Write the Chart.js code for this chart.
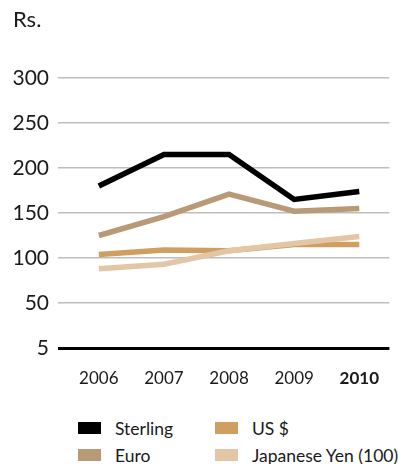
<!DOCTYPE html>
<html>
<head>
<meta charset="utf-8">
<script src="https://cdn.jsdelivr.net/npm/chart.js@4/dist/chart.umd.min.js"></script>
<style>
    html, body { margin: 0; padding: 0; background: #fff; }
    #wrap { position: relative; width: 399px; height: 464px; font-family: Lato, sans-serif; color: #1a1a1a; }
    #chart-box { position: absolute; left: 0; top: 0; width: 399px; height: 400px; }
    .key { position: absolute; display: flex; align-items: center; font-size: 17.5px; height: 24px; white-space: nowrap; }
    .key span.sw { display: inline-block; width: 23px; height: 12px; margin-right: 14px; flex: none; }
</style>
</head>
<body>
<div id="wrap">
    <div id="chart-box"><canvas id="fx"></canvas></div>
    <div id="legend"></div>
</div>
<script>
const years = [2006, 2007, 2008, 2009, 2010];
const sterling = [180, 215, 215, 165, 174];
const euro = [125, 146, 171, 152, 155];
const usDollar = [104, 109, 108, 115, 115];
const yen = [88, 93, 108, 116, 124];
const yTicks = [0, 50, 100, 150, 200, 250, 300];
const yTickLabels = ['5', '50', '100', '150', '200', '250', '300'];

const FONT = 'Lato, sans-serif';

const series = [
    { label: 'Sterling', values: sterling, color: '#000000' },
    { label: 'Euro', values: euro, color: '#b89a77' },
    { label: 'Japanese Yen (100)', values: yen, color: '#e3c6a5' },
    { label: 'US $', values: usDollar, color: '#d09e5f' },
];

// legend laid out in two columns, as in the printed report
const legendSlots = {
    'Sterling': [78, 416],
    'Euro': [78, 443],
    'US $': [215, 416],
    'Japanese Yen (100)': [215, 443],
};
const legend = document.getElementById('legend');
series.forEach((s) => {
    const [x, y] = legendSlots[s.label];
    const el = document.createElement('div');
    el.className = 'key';
    el.style.left = x + 'px';
    el.style.top = y + 'px';
    el.innerHTML = `<span class="sw" style="background:${s.color}"></span>${s.label}`;
    legend.appendChild(el);
});

new Chart(document.getElementById('fx'), {
    type: 'line',
    data: {
        datasets: series.map((s) => ({
            label: s.label,
            data: years.map((yr, i) => ({ x: yr, y: s.values[i] })),
            borderColor: s.color,
            backgroundColor: s.color,
            borderWidth: 5.5,
            borderCapStyle: 'butt',
            borderJoinStyle: 'miter',
            pointRadius: 0,
            tension: 0,
        }))
    },
    options: {
        animation: false,
        responsive: true,
        maintainAspectRatio: false,
        layout: { padding: { left: 13, right: 0, top: 0, bottom: 0 } },
        plugins: {
            legend: { display: false },
            tooltip: { enabled: false },
            title: {
                display: true,
                text: 'Rs.',
                align: 'start',
                color: '#1a1a1a',
                font: { family: FONT, size: 22, weight: 'normal', lineHeight: 1.2 },
                padding: { top: 7, bottom: 44.6 },
            },
        },
        scales: {
            x: {
                type: 'linear',
                min: 2005.373,
                max: 2010.463,
                afterBuildTicks: (scale) => { scale.ticks = years.map((v) => ({ value: v })); },
                afterFit: (scale) => { scale.height = 52; },
                grid: { display: false, drawTicks: false },
                border: { display: false },
                ticks: {
                    padding: 20,
                    color: '#1a1a1a',
                    font: (ctx) => ({
                        family: FONT,
                        size: 17,
                        weight: ctx.tick && ctx.tick.value === 2010 ? 'bold' : 'normal',
                    }),
                    callback: (v) => String(v),
                },
            },
            y: {
                min: 0,
                max: 300,
                afterBuildTicks: (scale) => { scale.ticks = yTicks.map((v) => ({ value: v })); },
                afterFit: (scale) => { scale.width = 45; },
                grid: {
                    drawTicks: false,
                    color: (ctx) => ctx.tick && ctx.tick.value === 0 ? '#000000' : '#bdbdbd',
                    lineWidth: (ctx) => ctx.tick && ctx.tick.value === 0 ? 3 : 1.5,
                },
                border: { display: false },
                ticks: {
                    padding: 9,
                    color: '#1a1a1a',
                    font: { family: FONT, size: 21 },
                    callback: (v) => yTickLabels[yTicks.indexOf(v)],
                },
            },
        },
    },
});
</script>
</body>
</html>
